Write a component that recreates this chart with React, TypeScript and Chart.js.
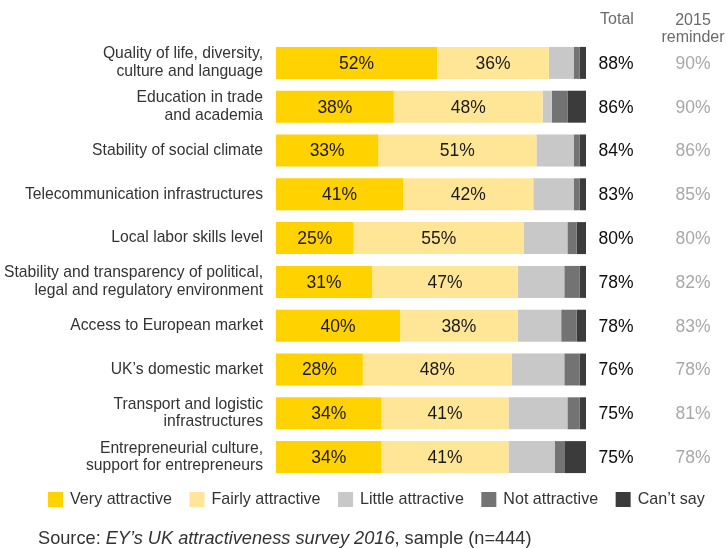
import React, { useEffect, useRef } from "react";
import { Chart, registerables } from "chart.js";

Chart.register(...registerables);

const FONT = '"Liberation Sans Narrow", "Arial Narrow", "Liberation Sans", sans-serif';

const categories: (string | string[])[] = [
  ["Quality of life, diversity,", "culture and language"],
  ["Education in trade", "and academia"],
  "Stability of social climate",
  "Telecommunication infrastructures",
  "Local labor skills level",
  ["Stability and transparency of political,", "legal and regulatory environment"],
  "Access to European market",
  "UK’s domestic market",
  ["Transport and logistic", "infrastructures"],
  ["Entrepreneurial culture,", "support for entrepreneurs"],
];

const seriesNames = ["Very attractive", "Fairly attractive", "Little attractive", "Not attractive", "Can’t say"];
const seriesColors = ["#FFD200", "#FFE697", "#C8C8C8", "#737373", "#3B3B3B"];

const veryAttractive = [52, 38, 33, 41, 25, 31, 40, 28, 34, 34];
const fairlyAttractive = [36, 48, 51, 42, 55, 47, 38, 48, 41, 41];
const littleAttractive = [8, 3, 12, 13, 14, 15, 14, 17, 19, 15];
const notAttractive = [2, 5, 2, 2, 3, 5, 5, 5, 4, 3];
const cantSay = [2, 6, 2, 2, 3, 2, 3, 2, 2, 7];

const totals = [88, 86, 84, 83, 80, 78, 78, 76, 75, 75];
const reminder2015 = [90, 90, 86, 85, 80, 82, 83, 78, 81, 78];

const seriesData = [veryAttractive, fairlyAttractive, littleAttractive, notAttractive, cantSay];

export default function App() {
  const ref = useRef<HTMLCanvasElement>(null);

  useEffect(() => {
    if (!ref.current) return;

    const overlay = {
      id: "overlay",
      afterDatasetsDraw(chart: any) {
        const ctx = chart.ctx as CanvasRenderingContext2D;
        ctx.save();
        ctx.textAlign = "center";
        ctx.textBaseline = "middle";
        ctx.font = `17.5px ${FONT}`;
        ctx.fillStyle = "#1a1a1a";
        [0, 1].forEach((d) => {
          const meta = chart.getDatasetMeta(d);
          meta.data.forEach((bar: any, i: number) => {
            const p = bar.getProps(["x", "base", "y"], true);
            const v = chart.data.datasets[d].data[i];
            ctx.fillText(`${v}%`, (p.x + p.base) / 2, p.y + 1);
          });
        });

        const yScale = chart.scales.y;
        totals.forEach((t, i) => {
          const y = yScale.getPixelForValue(i) + 1;
          ctx.fillStyle = "#0d0d0d";
          ctx.fillText(`${t}%`, 616, y);
          ctx.fillStyle = "#A8A8A8";
          ctx.fillText(`${reminder2015[i]}%`, 693, y);
        });

        ctx.font = `16px ${FONT}`;
        ctx.fillStyle = "#6B6B6B";
        ctx.fillText("Total", 617, 20);
        ctx.fillText("2015", 693, 21);
        ctx.fillText("reminder", 693, 38);
        ctx.restore();
      },
      afterDraw(chart: any) {
        const ctx = chart.ctx as CanvasRenderingContext2D;
        ctx.save();
        // legend
        ctx.font = `16.1px ${FONT}`;
        ctx.textBaseline = "middle";
        ctx.textAlign = "left";
        let x = 48;
        chart.data.datasets.forEach((ds: any) => {
          ctx.fillStyle = ds.backgroundColor;
          ctx.fillRect(x, 492, 15, 15);
          x += 15 + 7;
          ctx.fillStyle = "#333333";
          ctx.fillText(ds.label, x, 500);
          x += ctx.measureText(ds.label).width + 17.5;
        });
        // source
        ctx.textBaseline = "alphabetic";
        const parts: [string, boolean][] = [
          ["Source: ", false],
          ["EY’s UK attractiveness survey 2016", true],
          [", sample (n=444)", false],
        ];
        let sx = 38;
        parts.forEach(([t, it]) => {
          ctx.font = `${it ? "italic " : ""}18.2px ${FONT}`;
          ctx.fillStyle = "#333333";
          ctx.fillText(t, sx, 544);
          sx += ctx.measureText(t).width;
        });
        ctx.restore();
      },
    };

    const chart = new Chart(ref.current, {
      type: "bar",
      data: {
        labels: categories as any,
        datasets: seriesNames.map((name, i) => ({
          label: name,
          data: seriesData[i],
          backgroundColor: seriesColors[i],
          borderWidth: 0,
          barPercentage: 0.73,
          categoryPercentage: 1,
        })),
      },
      options: {
        indexAxis: "y",
        responsive: false,
        animation: false,
        layout: { padding: { top: 41, right: 140, bottom: 69, left: 0 } },
        plugins: {
          legend: { display: false },
          tooltip: { enabled: false },
          title: { display: false },
        },
        scales: {
          x: { stacked: true, min: 0, max: 100, display: false },
          y: {
            stacked: true,
            grid: { display: false, drawTicks: false },
            border: { display: false },
            ticks: {
              padding: 13,
              color: "#333333",
              font: { family: FONT, size: 15.7, lineHeight: 1.12 },
            },
            afterFit(scale: any) {
              scale.width = 276;
            },
          },
        },
      },
      plugins: [overlay],
    });

    return () => chart.destroy();
  }, []);

  return (
    <div style={{ position: "fixed", left: 0, top: 0, width: 726, height: 548, background: "#fff" }}>
      <canvas ref={ref} width={726} height={548} style={{ width: 726, height: 548, display: "block" }} />
    </div>
  );
}
